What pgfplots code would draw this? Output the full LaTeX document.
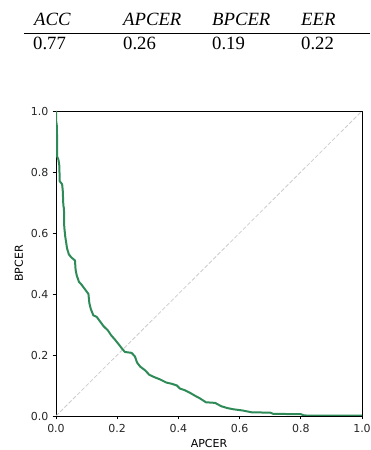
\documentclass[border=0pt]{standalone}
\usepackage{fontspec}
\setmainfont{DejaVu Sans}
\newfontfamily\timesf{Liberation Serif}
\usepackage{pgfplots}
\pgfplotsset{compat=1.18}
\definecolor{seagreen}{HTML}{2E8B57}
\definecolor{diag}{HTML}{CCCCCC}
\begin{document}
\begin{tikzpicture}[x=1pt,y=1pt]
\useasboundingbox (0,0) rectangle (370,450);
% table
\begin{scope}[every node/.style={inner sep=0pt,anchor=base west,font=\timesf\fontsize{18.7}{22}\selectfont}]
\node at (34,424) {\itshape ACC};
\node at (123,424) {\itshape APCER};
\node at (212,424) {\itshape BPCER};
\node at (301,424) {\itshape EER};
\node at (33,400) {0.77};
\node at (123,400) {0.26};
\node at (212,400) {0.19};
\node at (301,400) {0.22};
\end{scope}
\draw[line width=1.2pt] (24,416.5) -- (370,416.5);
\begin{axis}[
  at={(56pt,34pt)}, anchor=south west,
  scale only axis, width=306pt, height=305pt,
  xmin=0, xmax=1, ymin=0, ymax=1,
  xtick={0,0.2,0.4,0.6,0.8,1.0},
  ytick={0,0.2,0.4,0.6,0.8,1.0},
  tick align=outside, tick pos=left,
  major tick length=3.5pt,
  every tick/.style={black, line width=0.8pt},
  axis line style={line width=0.8pt},
  /pgf/number format/assume math mode=true,
  /pgf/number format/fixed,
  /pgf/number format/fixed zerofill,
  /pgf/number format/precision=1,
  x tick label style={yshift=-1.5pt},
  y tick label style={xshift=-0.5pt},
  tick label style={font=\fontsize{11}{13}\selectfont, text=black!85},
  label style={font=\fontsize{11}{13}\selectfont},
  xlabel={APCER}, ylabel={BPCER},
  ylabel style={yshift=1pt},
  clip=true,
]
\addplot[diag, line width=0.8pt, dash pattern=on 4pt off 2pt] coordinates {(0,0) (1,1)};
\addplot[seagreen, line width=2pt, line join=round] coordinates {
(0,1.0) (0,0.97) (0.003,0.95) (0.004,0.85) (0.008,0.84) (0.011,0.82)
(0.012,0.77) (0.02,0.76) (0.022,0.74) (0.024,0.69) (0.026,0.68) (0.027,0.62)
(0.03,0.59) (0.033,0.57) (0.036,0.55) (0.042,0.53) (0.05,0.52) (0.062,0.51)
(0.064,0.48) (0.068,0.46) (0.075,0.44) (0.084,0.43) (0.095,0.415) (0.106,0.40)
(0.109,0.37) (0.114,0.35) (0.122,0.33) (0.133,0.325) (0.144,0.31) (0.155,0.295)
(0.17,0.28) (0.18,0.265) (0.193,0.25) (0.205,0.235) (0.215,0.222) (0.225,0.21)
(0.247,0.207) (0.258,0.195) (0.265,0.175) (0.275,0.162) (0.291,0.150) (0.305,0.135)
(0.32,0.128) (0.34,0.12) (0.36,0.11) (0.38,0.105) (0.395,0.1) (0.405,0.09)
(0.42,0.085) (0.438,0.076) (0.455,0.066) (0.47,0.058) (0.49,0.045) (0.52,0.043)
(0.54,0.032) (0.56,0.026) (0.58,0.022) (0.61,0.018) (0.64,0.012) (0.70,0.011)
(0.71,0.007) (0.80,0.006) (0.81,0.002) (0.83,0.001) (1.0,0.001)
};
\end{axis}
\end{tikzpicture}
\end{document}
